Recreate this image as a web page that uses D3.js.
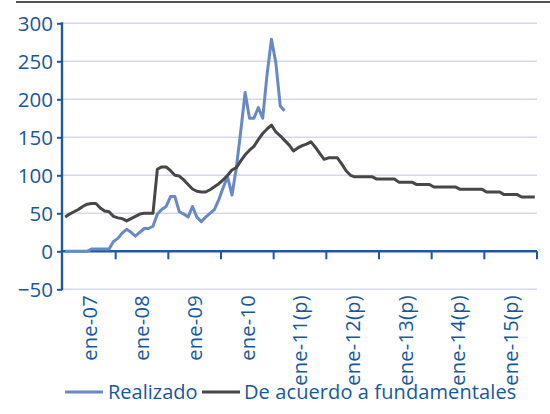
<!DOCTYPE html>
<html>
<head>
<meta charset="utf-8">
<script src="https://cdn.jsdelivr.net/npm/d3@7"></script>
<style>
  html, body { margin: 0; padding: 0; background: #fff; }
  svg { display: block; }
  text { font-family: "Open Sans", "DejaVu Sans", sans-serif; }
</style>
</head>
<body>
<svg id="chart" width="550" height="414"></svg>
<script>
// Monthly series, Jan 2007 .. Dec 2015 (108 months)
const yearLabels = ["ene-07", "ene-08", "ene-09", "ene-10", "ene-11(p)", "ene-12(p)", "ene-13(p)", "ene-14(p)", "ene-15(p)"];
const yTicks = [-50, 0, 50, 100, 150, 200, 250, 300];

// Realizado: observed, Jan 2007 .. Mar 2011
const realizado = [
  0, 0, 0, 0, 0, 0, 3, 3, 3, 3, 3, 13,
  17, 24, 29, 25, 20, 25, 30, 30, 33, 49, 55, 59,
  72, 72, 52, 49, 45, 59, 45, 39, 45, 50, 55, 68,
  84, 98, 74, 110, 158, 209, 175, 175, 189, 175, 233, 279,
  248, 191, 185
];

// De acuerdo a fundamentales: Jan 2007 .. Dec 2015
const fundamentales = [
  45, 49, 52, 55, 59, 62, 63, 63, 57, 53, 52, 46,
  44, 43, 40, 43, 46, 49, 50, 50, 50, 108, 111, 111,
  106, 100, 99, 94, 88, 82, 79, 78, 78, 81, 85, 89,
  94, 100, 107, 110, 119, 127, 133, 138, 147, 155, 161, 166,
  157, 152, 146, 140, 132, 136, 139, 141, 144, 137, 129, 121,
  123, 123, 123, 115, 106, 100, 98, 98, 98, 98, 98, 95,
  95, 95, 95, 95, 91, 91, 91, 91, 88, 88, 88, 88,
  84.5, 84.5, 84.5, 84.5, 84.5, 84.5, 81.5, 81.5, 81.5, 81.5, 81.5, 81.5,
  78, 78, 78, 78, 74.6, 74.6, 74.6, 74.6, 71.5, 71.5, 71.5, 71.5
];

const seriesNames = ["Realizado", "De acuerdo a fundamentales"];
const seriesColors = ["#6889c6", "#474747"];

const axisColor = "#1c5a9c";
const textColor = "#17589a";
const gridColor = "#d3d9ea";

const svg = d3.select("#chart");

const plotLeft = 62, plotRight = 537, plotTop = 23.3, plotBottom = 289.3;
const nMonths = 108;

const x = d3.scaleBand()
  .domain(d3.range(nMonths))
  .range([plotLeft + 1, plotRight])
  .paddingInner(0).paddingOuter(0);
const xc = i => x(i) + x.bandwidth() / 2;

const y = d3.scaleLinear().domain([-50, 300]).range([plotBottom, plotTop]);

// top rule
svg.append("line")
  .attr("x1", 16).attr("x2", 550).attr("y1", 2).attr("y2", 2)
  .attr("stroke", "#555").attr("stroke-width", 2);

// gridlines
svg.append("g").selectAll("line")
  .data(yTicks.filter(t => t !== 0))
  .join("line")
  .attr("x1", plotLeft).attr("x2", plotRight)
  .attr("y1", d => y(d)).attr("y2", d => y(d))
  .attr("stroke", gridColor).attr("stroke-width", 1.5);

// y axis
const yAxis = d3.axisLeft(y).tickValues(yTicks).tickSize(5).tickPadding(4);
const gy = svg.append("g").attr("transform", `translate(${plotLeft},0)`).call(yAxis);
gy.select(".domain").remove();
gy.selectAll(".tick line").attr("stroke", axisColor).attr("stroke-width", 2);
gy.selectAll(".tick text")
  .attr("fill", textColor).attr("font-size", 20.5)
  .attr("font-family", "'Open Sans', sans-serif")
  .attr("dy", "0.36em");
svg.append("line")
  .attr("x1", plotLeft).attr("x2", plotLeft).attr("y1", plotTop - 1).attr("y2", plotBottom + 1)
  .attr("stroke", axisColor).attr("stroke-width", 2.4);

// x axis on the zero line, ticks between years
const yearBounds = d3.range(0, nMonths + 1, 12);
const xPos = k => plotLeft + 1 + k * x.bandwidth();
svg.append("g").selectAll("line")
  .data(yearBounds.slice(1))
  .join("line")
  .attr("x1", d => xPos(d)).attr("x2", d => xPos(d))
  .attr("y1", y(0)).attr("y2", y(0) + 8)
  .attr("stroke", axisColor).attr("stroke-width", 2);
svg.append("line")
  .attr("x1", plotLeft).attr("x2", plotRight).attr("y1", y(0)).attr("y2", y(0))
  .attr("stroke", axisColor).attr("stroke-width", 2.4);

// year labels, rotated, centred in each year
svg.append("g").selectAll("text")
  .data(yearLabels)
  .join("text")
  .attr("transform", (d, k) => `translate(${(xPos(k * 12) + xPos(k * 12 + 12)) / 2},295) rotate(-90)`)
  .attr("text-anchor", "end")
  .attr("dy", "0.36em")
  .attr("fill", textColor)
  .attr("font-size", 20)
  .attr("letter-spacing", 0.3)
  .text(d => d);

// lines
const line = d3.line().x((d, i) => xc(i)).y(d => y(d));
[realizado, fundamentales].forEach((s, k) => {
  svg.append("path")
    .datum(s)
    .attr("fill", "none")
    .attr("stroke", seriesColors[k])
    .attr("stroke-width", 3)
    .attr("stroke-linejoin", "round")
    .attr("d", line);
});

// legend
const legendY = 392;
const legendItems = [
  { x1: 65, x2: 103, tx: 108 },
  { x1: 202, x2: 240, tx: 244 }
];
const lg = svg.append("g");
legendItems.forEach((it, k) => {
  lg.append("line")
    .attr("x1", it.x1).attr("x2", it.x2).attr("y1", legendY).attr("y2", legendY)
    .attr("stroke", seriesColors[k]).attr("stroke-width", 3);
  lg.append("text")
    .attr("x", it.tx).attr("y", legendY)
    .attr("dy", "0.36em")
    .attr("fill", textColor)
    .attr("font-size", 20)
    .attr("letter-spacing", k === 0 ? 0 : 0.1)
    .text(seriesNames[k]);
});
</script>
</body>
</html>
